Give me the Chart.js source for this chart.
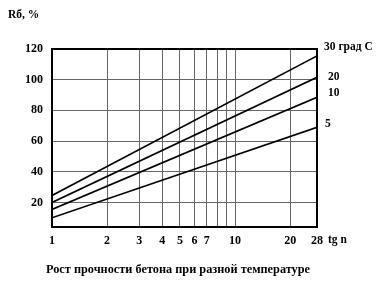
<!DOCTYPE html>
<html>
<head>
<meta charset="utf-8">
<script src="https://cdn.jsdelivr.net/npm/chart.js@4"></script>
<style>
    html, body { margin: 0; padding: 0; background: #fff; overflow: hidden; }
    #wrap { width: 391px; height: 288px; position: relative; }
</style>
</head>
<body>
<div id="wrap"><canvas id="chart" width="391" height="288"></canvas></div>
<script>
// age in days (log axis) and strength, % of R28
const xTicks = [1, 2, 3, 4, 5, 6, 7, 8, 9, 10, 20, 28];
const yTicks = [20, 40, 60, 80, 100, 120];
const days = [1, 28];
const t30 = [24.5, 115.5];
const t20 = [20, 101.5];
const t10 = [15.5, 88.5];
const t5 = [10, 69];
const seriesLabels = ['30 град С', '20', '10', '5'];
const labelOffsets = [[7, -9], [11, 0], [11, -4], [8, -3]];

const font = '"Liberation Serif", "DejaVu Serif", serif';

function pts(vals) {
    return days.map((d, i) => ({ x: d, y: vals[i] }));
}

const annotate = {
    id: 'annotate',
    afterDraw(chart) {
        const ctx = chart.ctx;
        const area = chart.chartArea;
        const xs = chart.scales.x, ys = chart.scales.y;
        ctx.save();
        // frame
        ctx.strokeStyle = '#000';
        ctx.lineWidth = 2;
        ctx.strokeRect(area.left, area.top, area.right - area.left, area.bottom - area.top);

        ctx.fillStyle = '#000';
        ctx.font = 'bold 11.5px ' + font;
        ctx.textBaseline = 'middle';
        ctx.textAlign = 'left';
        chart.data.datasets.forEach((ds, i) => {
            const last = ds.data[ds.data.length - 1];
            const px = xs.getPixelForValue(last.x) + labelOffsets[i][0];
            const py = ys.getPixelForValue(last.y) + labelOffsets[i][1];
            ctx.fillText(seriesLabels[i], px, py);
        });

        ctx.fillText('Rб, %', 8, 15);
        ctx.fillText('tg n', 328, 240);

        ctx.font = 'bold 12.3px ' + font;
        ctx.textAlign = 'center';
        ctx.fillText('Рост прочности бетона при разной температуре', 178, 270);
        ctx.restore();
    }
};

const lineStyle = { borderColor: '#000', borderWidth: 1.7, pointRadius: 0, fill: false, tension: 0 };

new Chart(document.getElementById('chart'), {
    type: 'line',
    data: {
        datasets: [
            Object.assign({ label: seriesLabels[0], data: pts(t30) }, lineStyle),
            Object.assign({ label: seriesLabels[1], data: pts(t20) }, lineStyle),
            Object.assign({ label: seriesLabels[2], data: pts(t10) }, lineStyle),
            Object.assign({ label: seriesLabels[3], data: pts(t5) }, lineStyle)
        ]
    },
    options: {
        responsive: false,
        animation: false,
        layout: { padding: { top: 49, right: 74, left: 0, bottom: 0 } },
        plugins: { legend: { display: false }, tooltip: { enabled: false } },
        scales: {
            x: {
                type: 'logarithmic',
                min: 1,
                max: 28,
                afterBuildTicks: s => { s.ticks = xTicks.map(v => ({ value: v })); },
                afterFit: s => { s.height = 61; },
                grid: { color: '#666', lineWidth: 1, drawTicks: false },
                border: { color: '#000', width: 2 },
                ticks: {
                    color: '#000',
                    font: { family: font, size: 12, weight: 'bold' },
                    padding: 7,
                    maxRotation: 0,
                    autoSkip: false,
                    callback: v => (v === 8 || v === 9) ? '' : String(v)
                }
            },
            y: {
                min: 4,
                max: 120,
                afterBuildTicks: s => { s.ticks = yTicks.map(v => ({ value: v })); },
                afterFit: s => { s.width = 52; },
                grid: { color: '#666', lineWidth: 1, drawTicks: false },
                border: { color: '#000', width: 2 },
                ticks: {
                    color: '#000',
                    font: { family: font, size: 12, weight: 'bold' },
                    padding: 9
                }
            }
        }
    },
    plugins: [annotate]
});
</script>
</body>
</html>
